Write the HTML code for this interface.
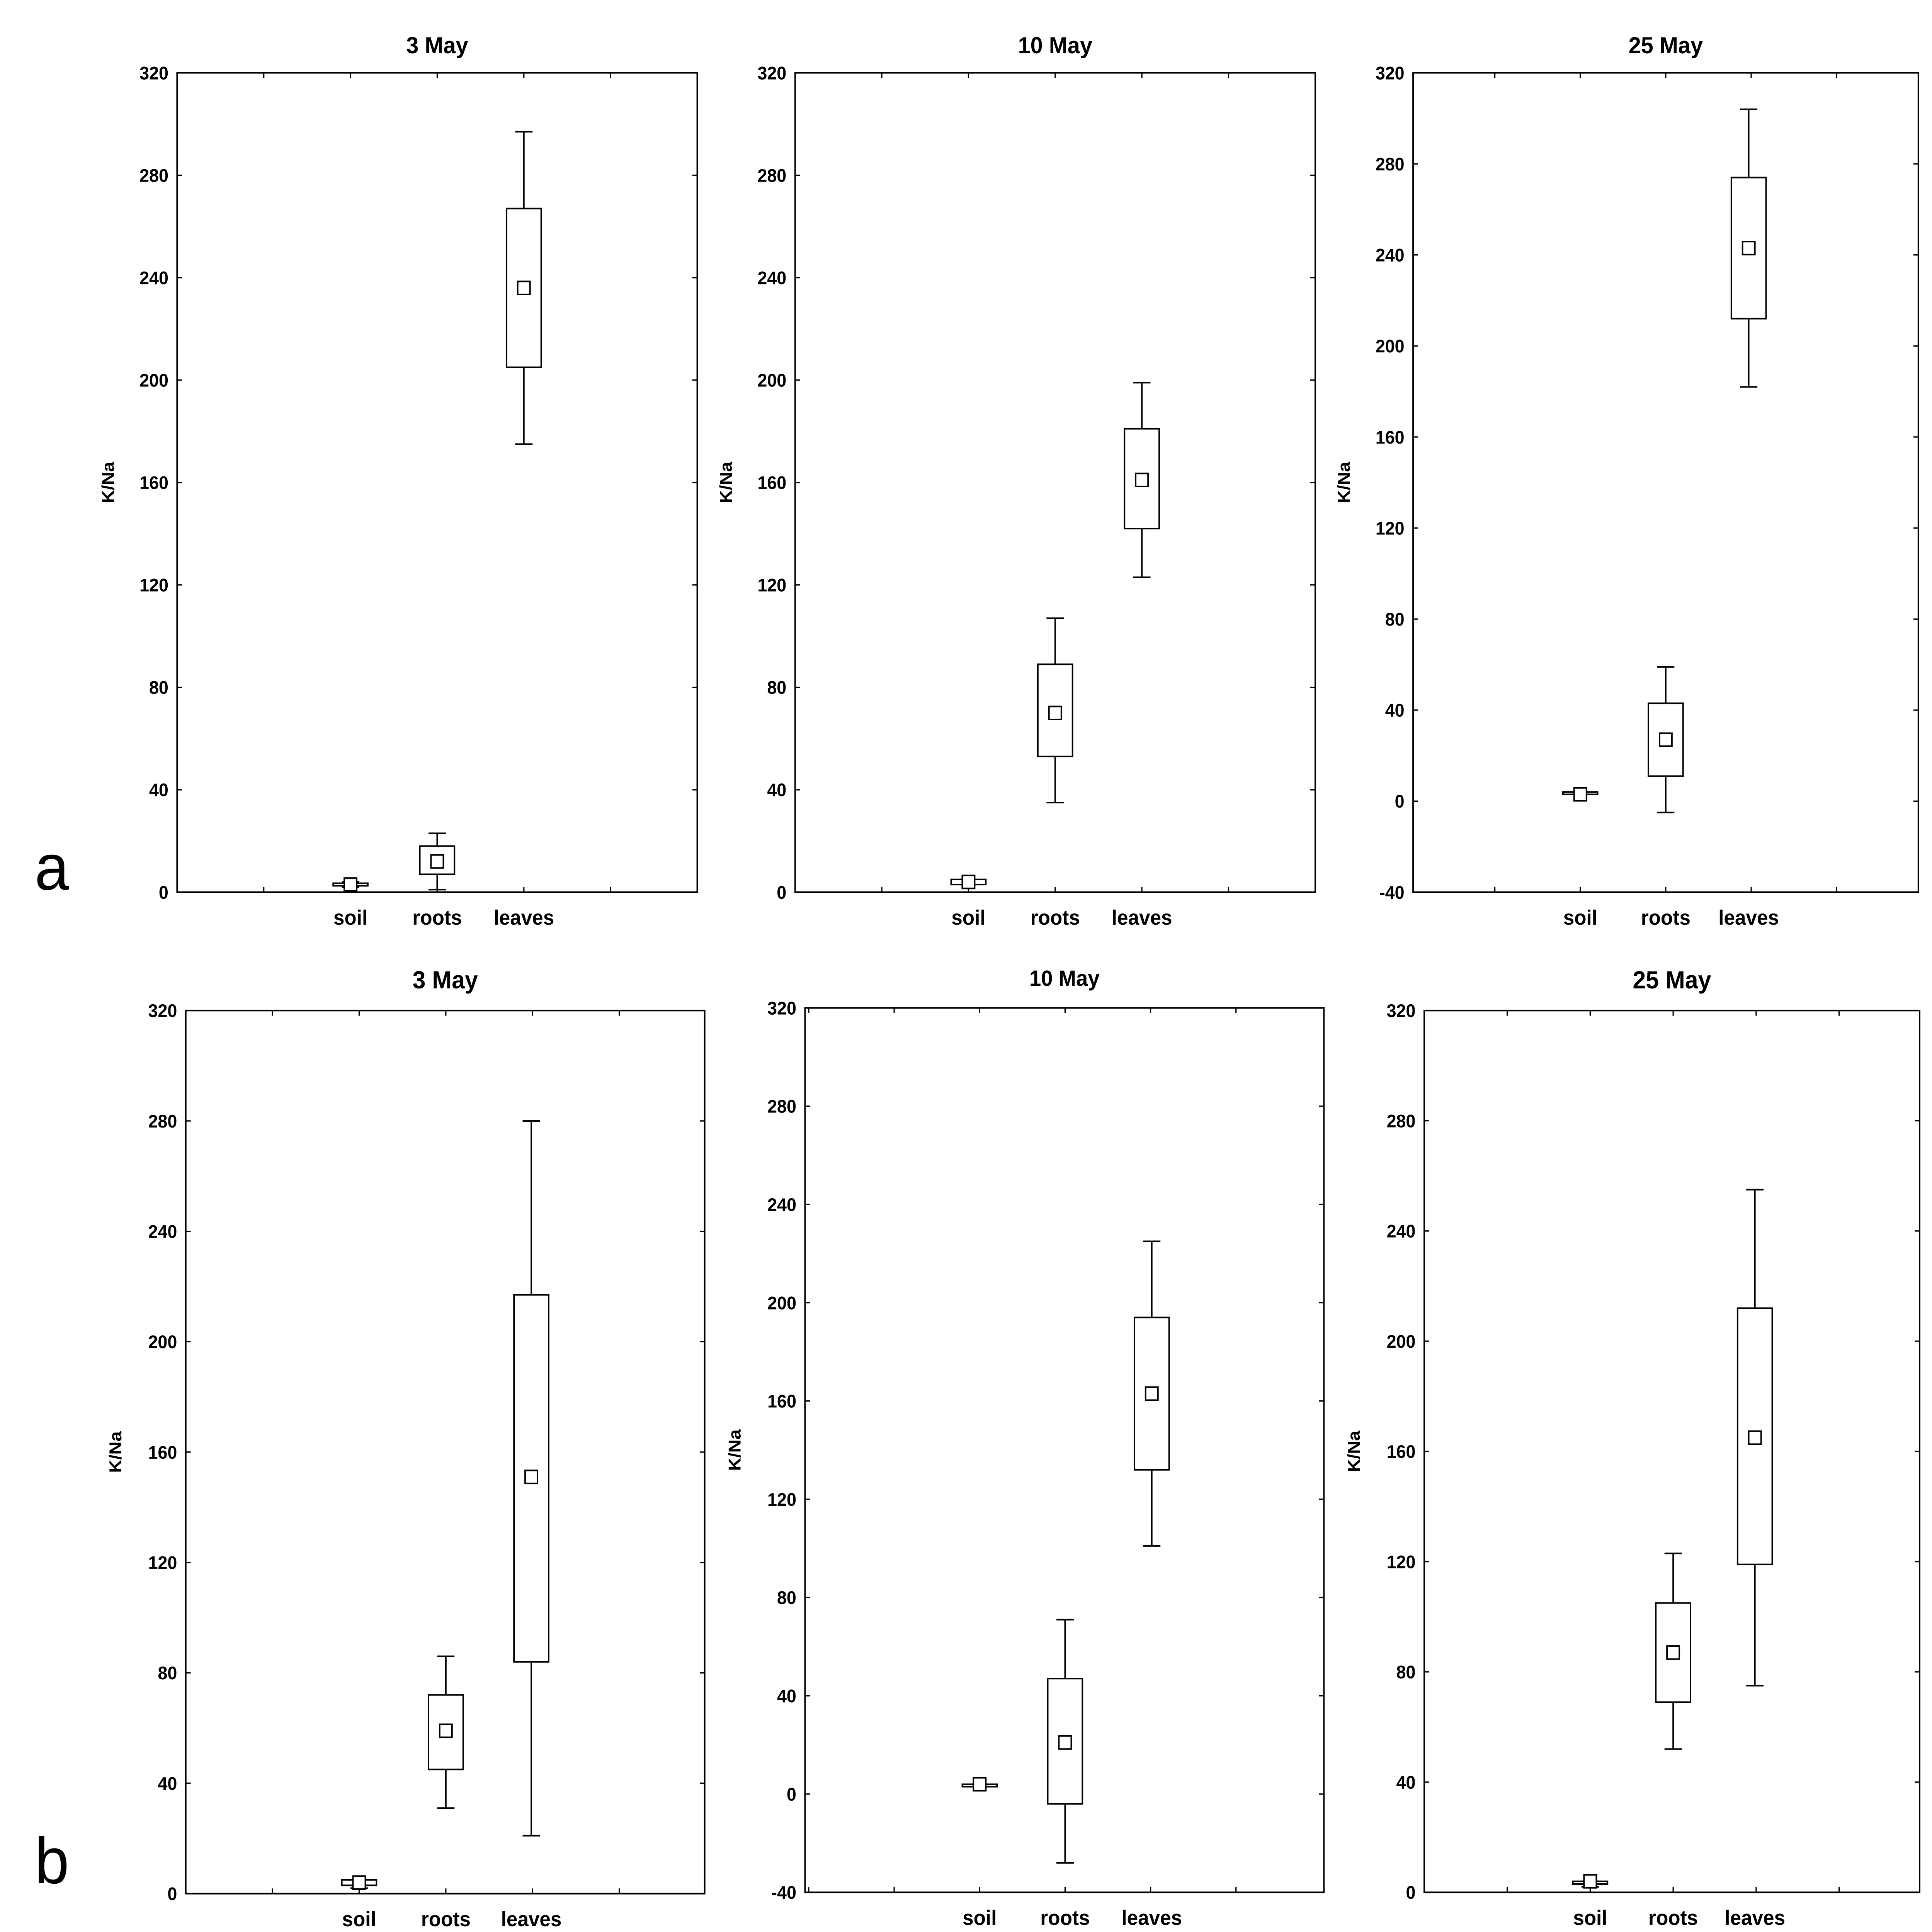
<!DOCTYPE html>
<html><head><meta charset="utf-8">
<style>
html,body{margin:0;padding:0;background:#fff;width:100%;height:100%;overflow:hidden;}
svg{display:block;position:absolute;left:0;top:0;width:100vw;height:100vh;}
text{font-family:"Liberation Sans",Arial,sans-serif;font-weight:bold;fill:#000;}
</style></head>
<body>
<svg viewBox="0 0 1560 1485.5" preserveAspectRatio="none" xmlns="http://www.w3.org/2000/svg">
<g id="chart">
<text x="28" y="684" font-size="50" style="font-weight:normal">a</text>
<text x="28" y="1448" font-size="50" style="font-weight:normal">b</text>
</g>
</svg>
<script>
const categories = ["soil","roots","leaves"];
const titles = ["3 May","10 May","25 May","3 May","10 May","25 May"];
const yMins = [0,0,-40,0,-40,0];
const yMaxs = [320,320,320,320,320,320];
const yTickStep = 40;
// per panel: [whiskerLow, boxLow, mean, boxHigh, whiskerHigh]
const soilStats = [[2,2.5,3,3.5,4],[3,3,4,5,5],[3,3,3,4,4],[2,3,4,5,5],[3,3,4,4,4],[2,3,4,4,4]];
const rootsStats = [[1,7,12,18,23],[35,53,70,89,107],[-5,11,27,43,59],[31,45,59,72,86],[-28,-4,21,47,71],[52,69,87,105,123]];
const leavesStats = [[175,205,236,267,297],[123,142,161,181,199],[182,212,243,274,304],[21,84,151,217,280],[101,132,163,194,225],[75,119,165,212,255]];

const panels = [
 {x0:143,x1:563,y0:56,y1:686,cx:[283,353,423],ty:41,ylx:92,ts:18},
 {x0:642,x1:1062,y0:56,y1:686,cx:[782,852,922],ty:41,ylx:591,ts:18},
 {x0:1141,x1:1549,y0:56,y1:686,cx:[1276,1345,1412],ty:41,ylx:1090,ts:18},
 {x0:150,x1:569,y0:777,y1:1456,cx:[290,360,429],ty:760,ylx:98,ts:19},
 {x0:650,x1:1069,y0:775,y1:1455,cx:[791,860,930],ty:758,ylx:598,ts:17},
 {x0:1150,x1:1550,y0:777,y1:1455,cx:[1284,1351,1417],ty:760,ylx:1098,ts:19}
];
const svg=document.getElementById('chart');
const NS="http://www.w3.org/2000/svg";
function mk(tag,attrs){const e=document.createElementNS(NS,tag);for(const k in attrs)e.setAttribute(k,attrs[k]);svg.appendChild(e);return e;}
panels.forEach((p,i)=>{
  const lo=yMins[i],hi=yMaxs[i];
  const y=v=>p.y1-(v-lo)/(hi-lo)*(p.y1-p.y0);
  const fr=mk('rect',{x:p.x0,y:p.y0,width:p.x1-p.x0,height:p.y1-p.y0,fill:'none',stroke:'#000','stroke-width':1.2});
  
  
  const t=mk('text',{x:(p.x0+p.x1)/2,y:p.ty,'font-size':p.ts,'text-anchor':'middle'});
  t.textContent=titles[i];
  
  
  const yl=mk('text',{x:p.ylx,y:(p.y0+p.y1)/2,'font-size':14,'text-anchor':'middle',transform:`rotate(-90 ${p.ylx} ${(p.y0+p.y1)/2})`});
  yl.textContent='K/Na';
  
  
  for(let v=lo;v<=hi;v+=yTickStep){
    const yy=y(v);
    mk('line',{x1:p.x0,x2:p.x0+4,y1:yy,y2:yy,stroke:'#000','stroke-width':1});
    mk('line',{x1:p.x1,x2:p.x1-4,y1:yy,y2:yy,stroke:'#000','stroke-width':1});
    const tl=mk('text',{x:p.x0-7,y:yy+5,'font-size':14,'text-anchor':'end'});
    tl.textContent=v;
    
    
  }
  const sp=p.cx[1]-p.cx[0];
  for(let k=-2;k<=4;k++){const xx=p.cx[0]+k*sp; if(xx>p.x0+2&&xx<p.x1-2){
    mk('line',{x1:xx,x2:xx,y1:p.y1,y2:p.y1-4,stroke:'#000','stroke-width':1});
    mk('line',{x1:xx,x2:xx,y1:p.y0,y2:p.y0+4,stroke:'#000','stroke-width':1});}}
  [soilStats,rootsStats,leavesStats].forEach((S,c)=>{
    const s=S[i],cx=p.cx[c];
    const cl=mk('text',{x:cx,y:p.y1+25,'font-size':16,'text-anchor':'middle'});
    cl.textContent=categories[c];
    
    
    mk('line',{x1:cx,x2:cx,y1:y(s[0]),y2:y(s[4]),stroke:'#000','stroke-width':1.2});
    mk('line',{x1:cx-7,x2:cx+7,y1:y(s[0]),y2:y(s[0]),stroke:'#000','stroke-width':1.2});
    mk('line',{x1:cx-7,x2:cx+7,y1:y(s[4]),y2:y(s[4]),stroke:'#000','stroke-width':1.2});
    const b=mk('rect',{x:cx-14,y:y(s[3]),width:28,height:Math.max(1,y(s[1])-y(s[3])),fill:'#fff',stroke:'#000','stroke-width':1.2});
    
    
    const m=mk('rect',{x:cx-5,y:y(s[2])-5,width:10,height:10,fill:'#fff',stroke:'#000','stroke-width':1.2});
    
    
  });
});
</script>
</body></html>
